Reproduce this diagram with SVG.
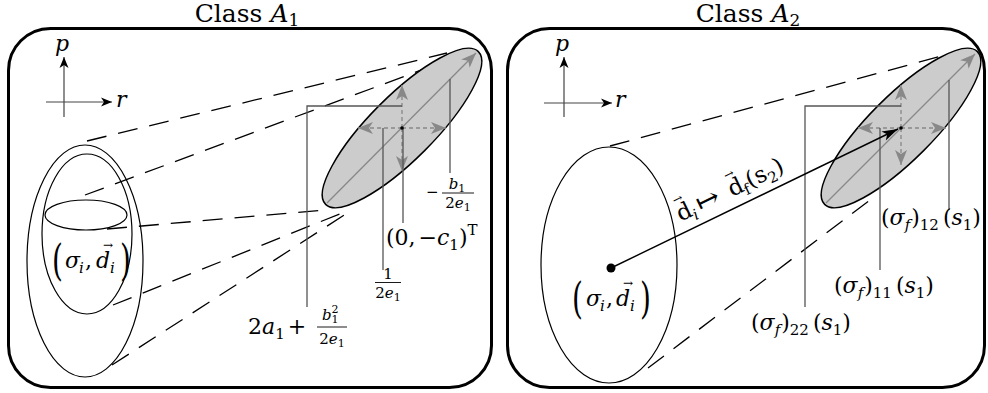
<svg xmlns="http://www.w3.org/2000/svg" width="988" height="393" viewBox="0 0 988 393" font-family="'DejaVu Serif', serif">
<defs>
<style>
text{font-family:'DejaVu Serif','DejaVu Sans',serif;font-size:22px;fill:#000}
.i{font-style:italic}
.s{font-size:15px}
.f{font-size:15px}
.fs{font-size:11px}
.va{font-size:12px}
.frame{fill:none;stroke:#000;stroke-width:3}
.cone{fill:none;stroke:#000;stroke-width:1.3;stroke-dasharray:20 12}
.ell{fill:none;stroke:#000;stroke-width:1.2}
.gell{fill:#cccccc;stroke:#000;stroke-width:1.5}
.gax{stroke:#888;stroke-width:1.3;fill:none}
.gdash{stroke:#888;stroke-width:1.3;stroke-dasharray:4 3;fill:none}
.ln{stroke:#555;stroke-width:1.3;fill:none}
.axis{stroke:#444;stroke-width:1.2;fill:none}
.bar{stroke:#000;stroke-width:0.9}
.arr{stroke:#000;stroke-width:1.4;fill:none}
</style>
<marker id="ga" viewBox="-17 -8 19 16" markerWidth="19" markerHeight="16" refX="0" refY="0" orient="auto" markerUnits="userSpaceOnUse"><path d="M0,0 L-15,-6 L-11,0 L-15,6 Z" fill="#888"/></marker>
<marker id="ba" viewBox="-18 -7 20 14" markerWidth="20" markerHeight="14" refX="0" refY="0" orient="auto" markerUnits="userSpaceOnUse"><path d="M0,0 L-16,-5 L-12,0 L-16,5 Z" fill="#000"/></marker>
<marker id="ax" viewBox="-13 -6 15 12" markerWidth="15" markerHeight="12" refX="0" refY="0" orient="auto" markerUnits="userSpaceOnUse"><path d="M0,0 L-11,-4.5 L-8,0 L-11,4.5 Z" fill="#000"/></marker>
</defs>

<!-- Panel A1 -->
<g id="panelA1">
<rect class="frame" x="8.5" y="28.5" width="483" height="359" rx="42"/>
<text x="247" y="22" text-anchor="middle" style="font-size:25px">Class <tspan class="i">A</tspan><tspan style="font-size:17px" dy="4">1</tspan></text>
</g>
<g id="axesA1">
<path class="axis" d="M64,117 L64,57" marker-end="url(#ax)"/>
<path class="axis" d="M46,102 L112,102" marker-end="url(#ax)"/>
<text class="i" x="55" y="51">p</text>
<text class="i" x="116" y="107">r</text>
</g>

<g id="connectorsA1">
<path class="cone" d="M87,141 L447,53"/>
<path class="cone" d="M85,195 L443,62"/>
<path class="cone" d="M107,229 L326,210"/>
<path class="cone" d="M113,305 L347,211"/>
<path class="cone" d="M112,365 L352,210"/>
</g>

<g id="initialA1">
<ellipse class="ell" cx="85" cy="261" rx="58" ry="116"/>
<ellipse class="ell" cx="87" cy="234" rx="45" ry="80"/>
<ellipse class="ell" cx="86" cy="215" rx="41" ry="15"/>
<text transform="translate(52,275) scale(1,1.5)" style="font-size:28px">(</text>
<text y="268"><tspan class="i" x="65">σ</tspan><tspan class="s i" x="79" y="273">i</tspan><tspan x="85" y="268">,</tspan><tspan class="i" x="96">d</tspan><tspan class="va" x="103" y="249">→</tspan><tspan class="s i" x="110" y="273">i</tspan></text>
<text transform="translate(120,275) scale(1,1.5)" style="font-size:28px">)</text>
</g>

<g id="finalA1">
<ellipse class="gell" cx="0" cy="0" rx="108" ry="32" transform="translate(402,128) rotate(-45)"/>
<path class="gax" d="M327,203 L476,53" marker-end="url(#ga)"/>
<path class="gdash" d="M402,128 L402,85" marker-end="url(#ga)"/>
<path class="gdash" d="M402,128 L358,128" marker-end="url(#ga)"/>
<path class="gdash" d="M402,128 L446,128" marker-end="url(#ga)"/>
<path class="gdash" d="M402,128 L402,171" marker-end="url(#ga)"/>
<path class="ln" d="M307,307 L307,106 L402,106"/>
<path class="ln" d="M383,128 L383,270"/>
<path class="ln" d="M403,128 L403,223"/>
<path class="ln" d="M450,79 L450,173"/>
<circle cx="402" cy="128" r="1.8" fill="#000"/>
</g>

<g id="labelsA1">
<text x="426" y="197" style="font-size:15px">−</text>
<text class="f" x="457" y="189" text-anchor="middle"><tspan class="i">b</tspan><tspan class="fs" dy="3">1</tspan></text>
<line class="bar" x1="442" y1="193" x2="474" y2="193"/>
<text class="f" x="458" y="208" text-anchor="middle">2<tspan class="i">e</tspan><tspan class="fs" dy="3">1</tspan></text>

<text x="386" y="245">(0,<tspan dx="3">−</tspan><tspan class="i">c</tspan><tspan class="s" dy="5">1</tspan><tspan dy="-5">)</tspan><tspan class="s" dy="-10">T</tspan></text>

<text class="f" x="388" y="279" text-anchor="middle">1</text>
<line class="bar" x1="375" y1="282.5" x2="401" y2="282.5"/>
<text class="f" x="388" y="298" text-anchor="middle">2<tspan class="i">e</tspan><tspan class="fs" dy="3">1</tspan></text>

<text x="248" y="334">2<tspan class="i">a</tspan><tspan class="s" dy="5">1</tspan><tspan dy="-5" dx="3">+</tspan></text>
<text class="f" x="322" y="320"><tspan class="i">b</tspan><tspan class="fs" dy="3">1</tspan><tspan class="fs" dx="-7" dy="-10">2</tspan></text>
<line class="bar" x1="317" y1="327" x2="347" y2="327"/>
<text class="f" x="332" y="344" text-anchor="middle">2<tspan class="i">e</tspan><tspan class="fs" dy="3">1</tspan></text>
</g>

<!-- Panel A2 -->
<g id="panelA2">
<rect class="frame" x="507.5" y="28.5" width="477" height="359" rx="42"/>
<text x="748" y="22" text-anchor="middle" style="font-size:25px">Class <tspan class="i">A</tspan><tspan style="font-size:17px" dy="4">2</tspan></text>
</g>
<g id="axesA2">
<path class="axis" d="M564,117 L564,57" marker-end="url(#ax)"/>
<path class="axis" d="M544,103 L612,103" marker-end="url(#ax)"/>
<text class="i" x="555" y="51">p</text>
<text class="i" x="615" y="107">r</text>
</g>

<g id="connectorsA2">
<path class="cone" d="M610,146 L960,51"/>
<path class="cone" d="M648,368 L870,200"/>
</g>

<g id="initialA2">
<ellipse class="ell" cx="609" cy="265" rx="68" ry="118"/>
<text transform="translate(572,313) scale(1,1.5)" style="font-size:28px">(</text>
<text y="306"><tspan class="i" x="586">σ</tspan><tspan class="s i" x="600" y="311">i</tspan><tspan x="606" y="306">,</tspan><tspan class="i" x="616">d</tspan><tspan class="va" x="623" y="287">→</tspan><tspan class="s i" x="630" y="311">i</tspan></text>
<text transform="translate(640,313) scale(1,1.5)" style="font-size:28px">)</text>
</g>

<g id="finalA2">
<ellipse class="gell" cx="0" cy="0" rx="108" ry="32" transform="translate(901,128) rotate(-45)"/>
<path class="gax" d="M826,203 L975,54" marker-end="url(#ga)"/>
<path class="gdash" d="M901,128 L901,85" marker-end="url(#ga)"/>
<path class="gdash" d="M901,128 L858,128" marker-end="url(#ga)"/>
<path class="gdash" d="M901,128 L946,128" marker-end="url(#ga)"/>
<path class="gdash" d="M901,128 L901,165" marker-end="url(#ga)"/>
<path class="ln" d="M805,307 L805,106 L901,106"/>
<path class="ln" d="M880,128 L880,270"/>
<path class="ln" d="M949,80 L949,210"/>
<circle cx="901" cy="128" r="1.8" fill="#000"/>
</g>

<g id="mapArrow">
<circle cx="611" cy="268" r="4.5" fill="#000"/>
<path class="arr" d="M611,268 L898,129" marker-end="url(#ba)"/>
<g transform="translate(611,268) rotate(-25.9)">
<text y="-11" style="font-size:23px"><tspan x="83">d</tspan><tspan class="va" x="85" y="-29">→</tspan><tspan class="s i" x="97" y="-6">i</tspan><tspan x="105" y="-10" style="font-size:28px">↦</tspan><tspan x="140" y="-11">d</tspan><tspan class="va" x="142" y="-29">→</tspan><tspan class="s" x="154" y="-6">f</tspan><tspan x="160" y="-11">(s</tspan><tspan class="s" dy="5">2</tspan><tspan dy="-5">)</tspan></text>
</g>
</g>

<g id="labelsA2">
<text x="751" y="330">(<tspan class="i">σ</tspan><tspan class="s i" dy="5">f</tspan><tspan dy="-5" dx="1">)</tspan><tspan class="s" dy="5">22</tspan><tspan dy="-5" dx="4">(</tspan><tspan class="i">s</tspan><tspan class="s" dy="5">1</tspan><tspan dy="-5">)</tspan></text>
<text x="834" y="293">(<tspan class="i">σ</tspan><tspan class="s i" dy="5">f</tspan><tspan dy="-5" dx="1">)</tspan><tspan class="s" dy="5">11</tspan><tspan dy="-5" dx="4">(</tspan><tspan class="i">s</tspan><tspan class="s" dy="5">1</tspan><tspan dy="-5">)</tspan></text>
<text x="881" y="225">(<tspan class="i">σ</tspan><tspan class="s i" dy="5">f</tspan><tspan dy="-5" dx="1">)</tspan><tspan class="s" dy="5">12</tspan><tspan dy="-5" dx="4">(</tspan><tspan class="i">s</tspan><tspan class="s" dy="5">1</tspan><tspan dy="-5">)</tspan></text>
</g>
</svg>
